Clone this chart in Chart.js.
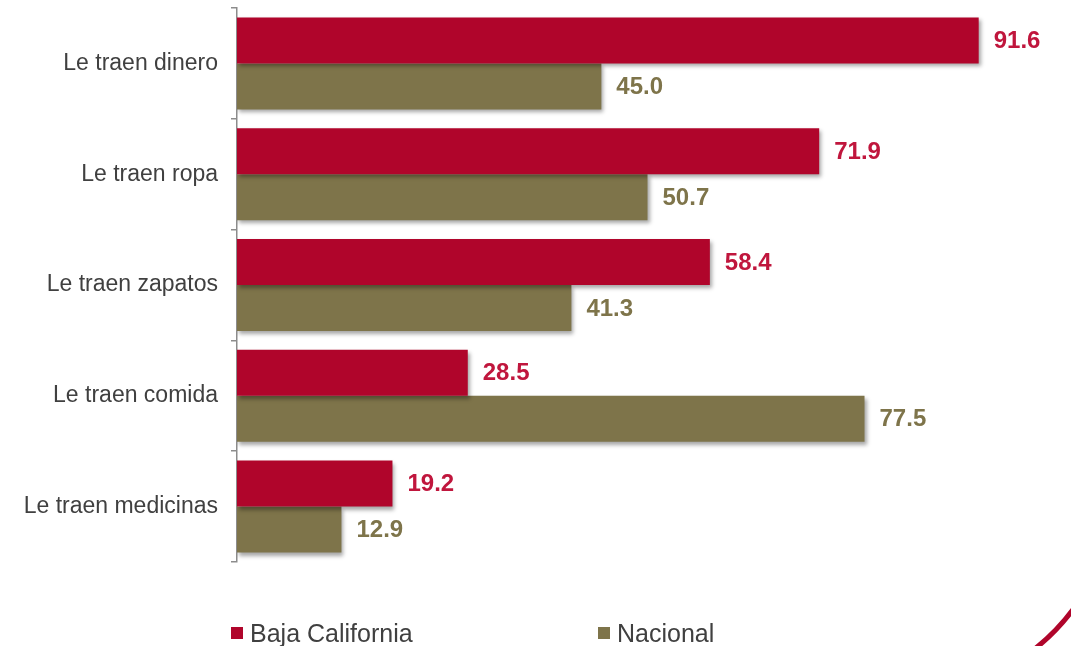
<!DOCTYPE html>
<html>
<head>
<meta charset="utf-8">
<script src="https://cdn.jsdelivr.net/npm/chart.js@4"></script>
<style>
  html, body { margin: 0; padding: 0; background: #fff; }
  #wrap { width: 1071px; height: 646px; }
</style>
</head>
<body>
<div id="wrap"><canvas id="grafico" width="1071" height="646"></canvas></div>
<script>
const categorias = ["Le traen dinero", "Le traen ropa", "Le traen zapatos", "Le traen comida", "Le traen medicinas"];
const bajaCalifornia = [91.6, 71.9, 58.4, 28.5, 19.2];
const nacional = [45.0, 50.7, 41.3, 77.5, 12.9];
const series = ["Baja California", "Nacional"];

const corRoja = '#b0052b';
const corOliva = '#7e744a';
const corTextoRojo = '#c0163d';
const fonte = '"Liberation Sans", Arial, sans-serif';

// sombra suave debajo de las barras
const sombra = {
    id: 'sombra',
    beforeDatasetsDraw(chart) {
        const ctx = chart.ctx;
        ctx.save();
        ctx.shadowColor = 'rgba(0,0,0,0.35)';
        ctx.shadowBlur = 4;
        ctx.shadowOffsetX = 2;
        ctx.shadowOffsetY = 3;
    },
    afterDatasetsDraw(chart) {
        chart.ctx.restore();
    }
};

// valores al final de cada barra
const etiquetas = {
    id: 'etiquetas',
    afterDatasetsDraw(chart) {
        const ctx = chart.ctx;
        ctx.save();
        ctx.font = 'bold 24px ' + fonte;
        ctx.textBaseline = 'middle';
        ctx.textAlign = 'left';
        chart.data.datasets.forEach((ds, i) => {
            ctx.fillStyle = i === 0 ? corTextoRojo : corOliva;
            chart.getDatasetMeta(i).data.forEach((bar, j) => {
                ctx.fillText(ds.data[j].toFixed(1), bar.x + 15, bar.y + 1);
            });
        });
        ctx.restore();
    }
};

// leyenda abajo y el arco decorativo
const leyenda = {
    id: 'leyenda',
    afterDraw(chart) {
        const ctx = chart.ctx;
        ctx.save();
        ctx.font = '25px ' + fonte;
        ctx.textBaseline = 'alphabetic';
        const posX = [231, 598];
        const cores = [corRoja, corOliva];
        series.forEach((nome, i) => {
            ctx.fillStyle = cores[i];
            ctx.fillRect(posX[i], 627, 12, 12);
            ctx.fillStyle = '#404040';
            ctx.fillText(nome, posX[i] + 19, 642);
        });
        ctx.strokeStyle = corRoja;
        ctx.lineWidth = 5;
        ctx.beginPath();
        ctx.arc(900, 480, 216, 0.5, 1.05);
        ctx.stroke();
        ctx.restore();
    }
};

new Chart(document.getElementById('grafico'), {
    type: 'bar',
    data: {
        labels: categorias,
        datasets: [
            { label: series[0], data: bajaCalifornia, backgroundColor: corRoja },
            { label: series[1], data: nacional, backgroundColor: corOliva }
        ]
    },
    options: {
        indexAxis: 'y',
        responsive: false,
        animation: false,
        categoryPercentage: 0.83,
        barPercentage: 1,
        layout: { padding: { top: 8, bottom: 84, left: 0, right: 0 } },
        plugins: { legend: { display: false }, tooltip: { enabled: false } },
        scales: {
            x: { display: false, min: 0, max: 103 },
            y: {
                afterFit: (s) => { s.width = 237; s.paddingTop = 0; s.paddingBottom = 0; },
                border: { color: '#8c8c8c', width: 1.5 },
                grid: { drawOnChartArea: false, drawTicks: true, tickLength: 6, color: '#8c8c8c', lineWidth: 1.5, offset: true },
                ticks: { color: '#404040', font: { family: fonte, size: 23 }, padding: 13 }
            }
        }
    },
    plugins: [sombra, etiquetas, leyenda]
});
</script>
</body>
</html>
